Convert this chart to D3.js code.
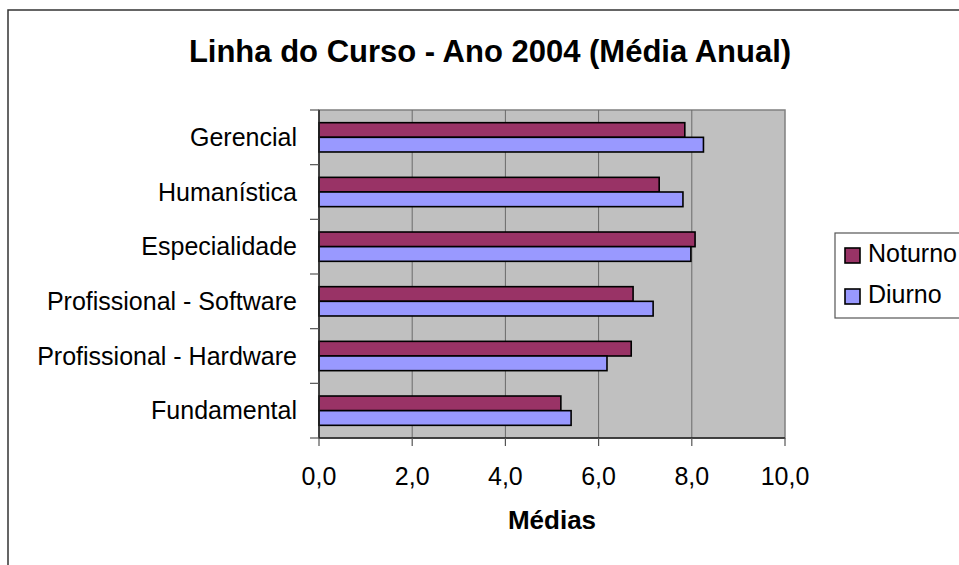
<!DOCTYPE html>
<html lang="pt">

<head>
    <meta charset="UTF-8">
    <title>Linha do Curso - Ano 2004</title>
    <script src="https://d3js.org/d3.v7.min.js"></script>
    <style>
        body {
            margin: 0;
            background: #fff;
        }

        text {
            font-family: Arial, "Liberation Sans", sans-serif;
            fill: #000;
        }
    </style>
</head>

<body>
    <svg width="959" height="565"></svg>

    <script>
        // Data
        const categories = ["Gerencial", "Humanística", "Especialidade",
            "Profissional - Software", "Profissional - Hardware", "Fundamental"];
        const seriesNames = ["Noturno", "Diurno"];
        const noturno = [7.85, 7.30, 8.07, 6.74, 6.70, 5.19];
        const diurno = [8.25, 7.81, 7.98, 7.17, 6.18, 5.41];
        const xTicks = [0, 2, 4, 6, 8, 10];
        const colors = ["#993366", "#9999FF"];

        const width = 959, height = 565;
        const plot = { left: 319, right: 785, top: 110, bottom: 438 };

        const svg = d3.select("svg");

        // outer chart frame (runs off the right and bottom edge)
        svg.append("rect")
            .attr("x", 8).attr("y", 10)
            .attr("width", 1000).attr("height", 600)
            .attr("fill", "#fff")
            .attr("stroke", "#333")
            .attr("stroke-width", 1.5);

        svg.append("text")
            .attr("x", 490).attr("y", 62)
            .attr("text-anchor", "middle")
            .style("font-size", "31px")
            .style("font-weight", "bold")
            .text("Linha do Curso - Ano 2004 (Média Anual)");

        const x = d3.scaleLinear().domain([0, 10]).range([plot.left, plot.right]);
        const y = d3.scaleBand().domain(categories).range([plot.top, plot.bottom]);
        const groupPad = y.bandwidth() * 0.232;
        const ySub = d3.scaleBand().domain(seriesNames)
            .range([groupPad, y.bandwidth() - groupPad]);

        const ptBR = d3.formatLocale({ decimal: ",", thousands: ".", grouping: [3], currency: ["R$", ""] });
        const fmt = ptBR.format(".1f");

        // plot area
        svg.append("rect")
            .attr("x", plot.left).attr("y", plot.top)
            .attr("width", plot.right - plot.left)
            .attr("height", plot.bottom - plot.top)
            .attr("fill", "#C0C0C0")
            .attr("stroke", "#808080")
            .attr("stroke-width", 1.5);

        // vertical gridlines
        svg.selectAll(".grid")
            .data(xTicks.slice(1, -1))
            .enter().append("line")
            .attr("x1", d => x(d)).attr("x2", d => x(d))
            .attr("y1", plot.top).attr("y2", plot.bottom)
            .attr("stroke", "#6a6a6a")
            .attr("stroke-width", 1);

        // bars
        const rows = categories.map((c, i) => ({ cat: c, values: [noturno[i], diurno[i]] }));
        const groups = svg.selectAll(".grp")
            .data(rows)
            .enter().append("g")
            .attr("transform", d => `translate(0,${y(d.cat)})`);

        groups.selectAll("rect")
            .data(d => d.values.map((v, j) => ({ name: seriesNames[j], value: v, idx: j })))
            .enter().append("rect")
            .attr("x", x(0))
            .attr("y", d => ySub(d.name))
            .attr("width", d => x(d.value) - x(0))
            .attr("height", ySub.bandwidth())
            .attr("fill", d => colors[d.idx])
            .attr("stroke", "#000")
            .attr("stroke-width", 1.6);

        // y axis
        const yAxis = svg.append("g")
            .attr("transform", `translate(${plot.left},0)`);
        yAxis.append("line")
            .attr("x1", 0).attr("x2", 0)
            .attr("y1", plot.top).attr("y2", plot.bottom)
            .attr("stroke", "#222").attr("stroke-width", 1.5);
        yAxis.selectAll(".ytick")
            .data(d3.range(categories.length + 1))
            .enter().append("line")
            .attr("x1", -9).attr("x2", 0)
            .attr("y1", i => plot.top + i * y.step())
            .attr("y2", i => plot.top + i * y.step())
            .attr("stroke", "#555").attr("stroke-width", 1.2);
        yAxis.selectAll(".ylab")
            .data(categories)
            .enter().append("text")
            .attr("x", -22)
            .attr("y", d => y(d) + y.bandwidth() / 2 + 8.5)
            .attr("text-anchor", "end")
            .style("font-size", "25px")
            .text(d => d);

        // x axis
        const xAxis = svg.append("g")
            .attr("transform", `translate(0,${plot.bottom})`);
        xAxis.append("line")
            .attr("x1", plot.left).attr("x2", plot.right)
            .attr("stroke", "#222").attr("stroke-width", 1.5);
        xAxis.selectAll(".xtick")
            .data(xTicks)
            .enter().append("line")
            .attr("x1", d => x(d)).attr("x2", d => x(d))
            .attr("y1", 0).attr("y2", 8)
            .attr("stroke", "#555").attr("stroke-width", 1.2);
        xAxis.selectAll(".xlab")
            .data(xTicks)
            .enter().append("text")
            .attr("x", d => x(d))
            .attr("y", 47)
            .attr("text-anchor", "middle")
            .style("font-size", "25px")
            .text(d => fmt(d));

        svg.append("text")
            .attr("x", (plot.left + plot.right) / 2)
            .attr("y", 529)
            .attr("text-anchor", "middle")
            .style("font-size", "26px")
            .style("font-weight", "bold")
            .text("Médias");

        // legend
        const legend = svg.append("g").attr("transform", "translate(835,233)");
        legend.append("rect")
            .attr("width", 200).attr("height", 85)
            .attr("fill", "#fff")
            .attr("stroke", "#555")
            .attr("stroke-width", 1.2);
        const item = legend.selectAll(".item")
            .data(seriesNames)
            .enter().append("g")
            .attr("transform", (d, i) => `translate(0,${i * 41})`);
        item.append("rect")
            .attr("x", 10).attr("y", 15)
            .attr("width", 15).attr("height", 15)
            .attr("fill", (d, i) => colors[i])
            .attr("stroke", "#000")
            .attr("stroke-width", 1.6);
        item.append("text")
            .attr("x", 33).attr("y", 29)
            .style("font-size", "25px")
            .text(d => d);
    </script>
</body>

</html>
